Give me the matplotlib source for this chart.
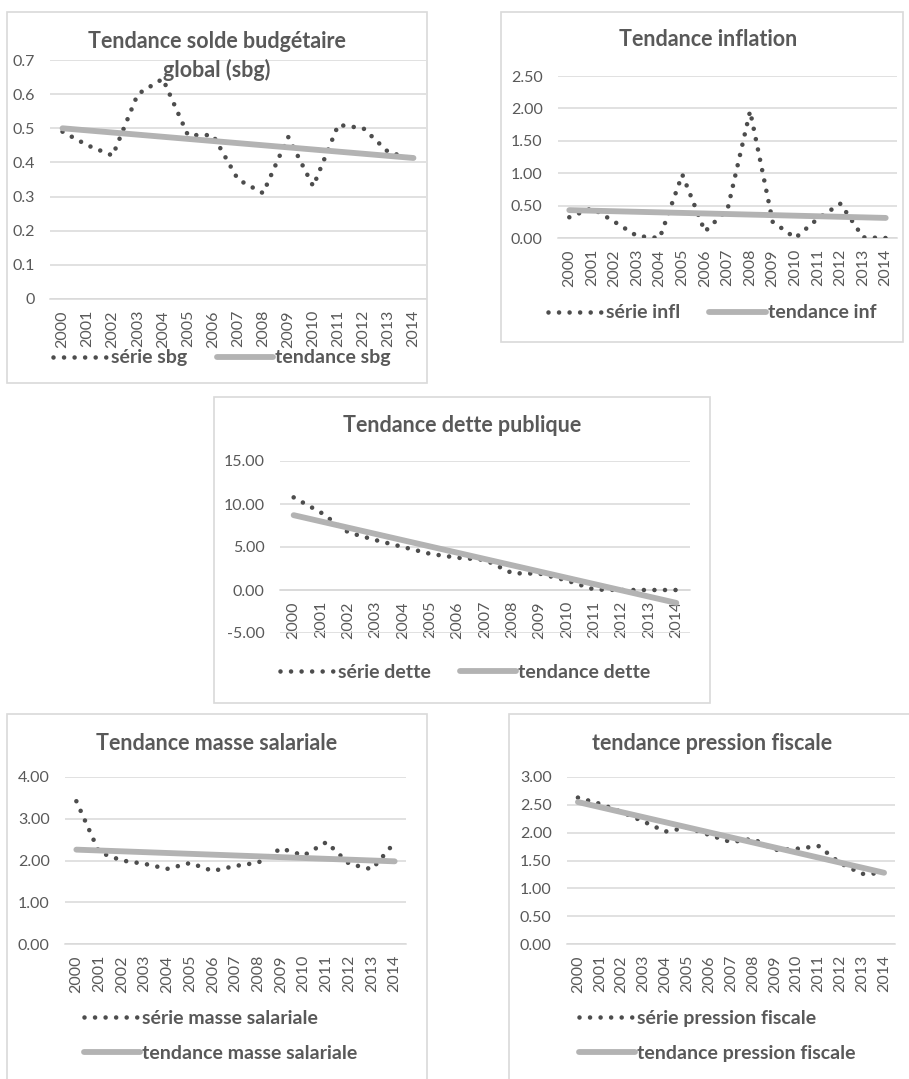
import numpy as np
import matplotlib
matplotlib.use("Agg")
import matplotlib.pyplot as plt
from matplotlib.patches import Rectangle

plt.rcParams["font.family"] = ["Lato", "DejaVu Sans"]

W, H = 909, 1079
TXT = "#595959"; DOT = "#4d4d4d"; TREND = "#b3b3b3"; GRID = "#d9d9d9"

years = [str(y) for y in range(2000, 2015)]

# series (one value per year)
sbg = [0.49, 0.45, 0.42, 0.60, 0.645, 0.48, 0.48, 0.35, 0.31, 0.475, 0.33, 0.51, 0.50, 0.43, 0.41]
infl = [0.32, 0.46, 0.25, 0.03, 0.00, 0.98, 0.10, 0.44, 1.96, 0.25, 0.00, 0.30, 0.53, 0.01, 0.00]
dette = [10.77, 9.0, 6.7, 5.8, 5.0, 4.2, 3.75, 3.5, 1.95, 1.9, 1.1, 0.05, 0.0, 0.0, 0.0]
masse = [3.42, 2.20, 2.00, 1.92, 1.80, 1.94, 1.75, 1.87, 1.95, 2.29, 2.12, 2.44, 1.92, 1.79, 2.43]
pression = [2.63, 2.52, 2.37, 2.20, 2.02, 2.09, 1.96, 1.83, 1.89, 1.69, 1.71, 1.76, 1.45, 1.26, 1.27]

# linear trends: value at 2000 and at 2014
trend_sbg = [0.50, 0.413]
trend_infl = [0.43, 0.31]
trend_dette = [8.7, -1.5]
trend_masse = [2.26, 1.98]
trend_pression = [2.55, 1.28]

fig = plt.figure(figsize=(W / 100, H / 100), dpi=100)


def px_axes(l, t, r, b):
    return fig.add_axes([l / W, 1 - b / H, (r - l) / W, (b - t) / H])


def frame(l, t, r, b):
    fig.patches.append(Rectangle((l / W, 1 - b / H), (r - l) / W, (b - t) / H,
                                 transform=fig.transFigure, fill=False,
                                 edgecolor=GRID, lw=1.2))


def chart(rect, series, trend, ylim, yticks, fmt, title, title_xy, labels,
          leg_xy, ncol, leg_loc="center"):
    ax = px_axes(*rect)
    for s in ["top", "right", "left"]:
        ax.spines[s].set_visible(False)
    ax.spines["bottom"].set_color(GRID)
    ax.spines["bottom"].set_linewidth(1.1)
    if ylim[0] < 0:
        ax.spines["bottom"].set_position(("data", 0))
    x = np.arange(len(years))
    ax.plot(x, series, color=DOT, lw=3.3, linestyle=(0, (0.001, 2.3)),
            dash_capstyle="round", zorder=3, label=labels[0])
    ax.plot([x[0], x[-1]], trend, color=TREND, lw=4.2, solid_capstyle="round",
            zorder=4, label=labels[1])
    ax.set_xlim(-0.5, len(years) - 0.5)
    ax.set_ylim(*ylim)
    ax.set_yticks(yticks)
    ax.set_yticklabels([fmt.format(v) for v in yticks])
    ax.set_xticks(x)
    ax.set_xticklabels(years, rotation=90)
    ax.yaxis.grid(True, color=GRID, lw=1.1)
    ax.set_axisbelow(True)
    ax.tick_params(axis="y", length=0, pad=11, labelsize=11.5, labelcolor=TXT)
    ax.tick_params(axis="x", length=0, pad=8, labelsize=11.5, labelcolor=TXT)
    fig.text(title_xy[0] / W, 1 - title_xy[1] / H, title, ha="center", va="center",
             fontsize=15.5, fontweight="bold", color=TXT, linespacing=1.35)
    leg = ax.legend(loc=leg_loc, bbox_to_anchor=(leg_xy[0] / W, 1 - leg_xy[1] / H),
                    bbox_transform=fig.transFigure, ncol=ncol, frameon=False,
                    handlelength=2.9, handletextpad=0.1, columnspacing=1.5,
                    borderpad=0, borderaxespad=0, labelspacing=0.95,
                    prop={"size": 14, "weight": "bold"})
    for t in leg.get_texts():
        t.set_color(TXT)
    return ax


frame(7, 12, 427, 383)
chart((50, 60, 426, 299), sbg, trend_sbg, (0, 0.7), np.arange(0, 0.71, 0.1), "{:g}",
      "Tendance solde budgétaire\nglobal (sbg)", (217, 56),
      ["série sbg", "tendance sbg"], (222, 358), 2)

frame(501, 12, 903, 342)
chart((558, 76, 897, 238), infl, trend_infl, (0, 2.5), np.arange(0, 2.51, 0.5), "{:.2f}",
      "Tendance inflation", (708, 40),
      ["série infl", "tendance inf"], (712, 313), 2)

frame(214, 397, 710, 703)
chart((280, 461, 690, 633), dette, trend_dette, (-5, 15), np.arange(-5, 15.1, 5), "{:.2f}",
      "Tendance dette publique", (462, 425),
      ["série dette", "tendance dette"], (465, 672), 2)

frame(7, 714, 427, 1090)
chart((65, 777, 406, 944), masse, trend_masse, (0, 4), np.arange(0, 4.1, 1), "{:.2f}",
      "Tendance masse salariale", (217, 743),
      ["série masse salariale", "tendance masse salariale"], (84, 1036), 1, "center left")

frame(509, 714, 920, 1090)
chart((567, 777, 895, 944), pression, trend_pression, (0, 3), np.arange(0, 3.01, 0.5), "{:.2f}",
      "tendance pression fiscale", (712, 743),
      ["série pression fiscale", "tendance pression fiscale"], (579, 1036), 1, "center left")

fig.savefig("out.png", dpi=100)
